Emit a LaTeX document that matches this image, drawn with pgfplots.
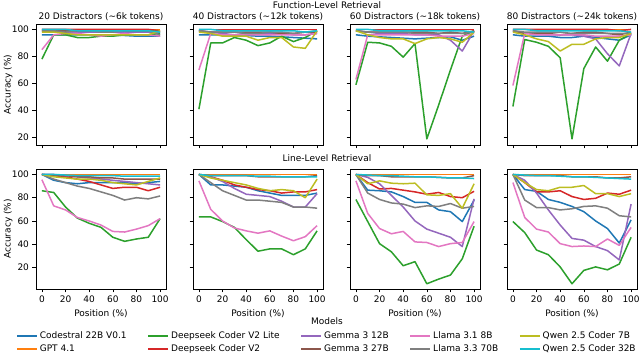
\documentclass[border=0pt]{standalone}
\usepackage{fontspec}
\setmainfont{DejaVu Sans}
\usepackage{pgfplots}
\usepackage{pgfplotstable}
\pgfplotsset{compat=1.18}

% tab10 colours
\definecolor{c0}{HTML}{1F77B4}
\definecolor{c1}{HTML}{FF7F0E}
\definecolor{c2}{HTML}{2CA02C}
\definecolor{c3}{HTML}{D62728}
\definecolor{c4}{HTML}{9467BD}
\definecolor{c5}{HTML}{8C564B}
\definecolor{c6}{HTML}{E377C2}
\definecolor{c7}{HTML}{7F7F7F}
\definecolor{c8}{HTML}{BCBD22}
\definecolor{c9}{HTML}{17BECF}

% Function-level retrieval
\pgfplotstableread{
x   cod  gpt dsl  dsv g12 g27 l8  l70 q7  q32
0   96   100 78   100 99  99  85  99  98  100
10  96   100 96   100 98  99  96  99  98  100
20  96   100 96   100 98  99  97  98  97  100
30  96   100 94   100 98  99  97  99  96  99
40  96   100 94   100 98  99  96  99  96  99
50  95.5 100 95   100 98  99  95  98  96  99
60  95.5 100 95   100 98  99  96  98  96  99
70  95.5 100 96   100 98  99  97  99  96  99
80  95   100 96   100 98  99  96  99  96  99
90  95   100 96   100 98  99  96  99  96  99
100 95   100 97   99  98  99  95  96  99  98
}\fA
\pgfplotstableread{
x   cod  gpt dsl  dsv g12 g27 l8  l70 q7  q32
0   96   100 41   100 99  99  70  99  98  100
10  96   100 90   100 98  98  97  98  97  100
20  96   100 90   100 97  98  96  98  95  99
30  96   100 94   100 96  98  96  98  95  99
40  95.5 100 92   100 97  98  96  97  95  99
50  95   100 88   100 97  98  96  97  92  99
60  95   100 90   100 97  98  96  98  94  99
70  94.5 100 95   100 97  97  96  98  94  99
80  94   100 91   100 96  97  96  97  87  99
90  93.5 100 94   100 96  98  96  98  86  98
100 93   100 99   100 97  98  97  99  99  99
}\fB
\pgfplotstableread{
x   cod  gpt dsl  dsv g12 g27 l8  l70 q7   q32
0   96   100 59   100 99  99  63  99  99   100
10  95   100 90.5 100 98  98  96  98  96   100
20  94.5 100 90   100 97  98  96  98  94   99
30  94   100 87.5 100 97  98  96  98  93   99
40  93.5 100 79.5 100 97  98  96  98  93   99
50  93   100 89.5 100 96  98  96  97  89.5 99
60  93.5 100 19   100 96  98  96  97  93   99
70  94   100 44   100 96  97  95  97  94   99
80  94.5 100 70   100 92  98  95  97  93   99
90  92   100 95   100 84  97  95  97  90.5 99
100 95   100 99   100 99  99  97  98  98   98
}\fC
\pgfplotstableread{
x   cod  gpt dsl  dsv g12 g27 l8   l70 q7  q32
0   96   100 43   100 99  99  58.5 99  98  100
10  95   100 92.5 100 97  97  97   98  96  100
20  95   100 90.5 100 97  97  96   98  93  99
30  95   100 87.5 100 96  97  96   98  91  99
40  94   100 79   100 96  96  96   98  84  99
50  94   100 19   100 96  97  96   97  89  99
60  95   100 71   100 95  98  96   97  89  99
70  94   100 87   100 93  98  95   97  93  99
80  93   100 76.5 100 82  97  95   97  94  99
90  92   100 92   99  73  96  95   97  94  99
100 96   100 97   100 97  98  96   97  97  98
}\fD

% Line-level retrieval
\pgfplotstableread{
x   cod gpt dsl  dsv g12 g27 l8   l70  q7  q32
0   100 100 86   100 100 100 95.5 100  100 100
10  95  100 84.5 99  100 99  73   96   98  100
20  93  100 72   98  99  99  69.5 93   97  99.5
30  92  100 62.5 96  98  98  63   90   96  99
40  93  100 58   94  97  98  60   88   96  99
50  93  100 54.5 91  96  97  56.5 85   95  99
60  93  100 46   88  95  97  51   82   93  99
70  93  100 42.5 89  94  96  50.5 78   92  98.5
80  92  100 44.5 89  93  96  53   80   91  98.5
90  93  100 46   86  92  96  56   79   94  98.5
100 94  100 62   89  91  96  62   81.5 97  98.5
}\lA
\pgfplotstableread{
x   cod gpt dsl  dsv g12  g27 l8   l70 q7  q32
0   100 100 63.5 100 100  100 94.5 100 100 100
10  91  100 63.5 98  98   99  70   93  97  99
20  91  100 59.5 95  94   99  60   86  95  99
30  90  100 54.5 91  88   99  54   82  93  99
40  89  100 44   89  83   99  51.5 78  91  99
50  86  100 34   87  82   98  49.5 78  88  98.5
60  84  100 36   86  81   98  51.5 77  86  98.5
70  82  100 36   84  77   98  47   76  87  98
80  82  100 31   85  72   98  43   72  86  98
90  82  100 36   85  72   98  46.5 72  80  98
100 84  100 51.5 87  83.5 99  56   71  96  98
}\lB
\pgfplotstableread{
x   cod  gpt dsl  dsv  g12  g27  l8   l70  q7   q32
0   100  100 78.5 100  100  100  94.5 100  100  100
10  86.5 100 59.5 93   97.5 99   66.5 84   92   99.5
20  86   100 40.5 87.5 92   99   53.5 78.5 94.5 99
30  85   100 33.5 88   82   98   49   75.5 92.5 99
40  81   100 21.5 86.5 72   98   51   74.5 92   98.5
50  76   100 25   85   60   98   42   71.5 92.5 98
60  76   100 6    83   53   98   41.5 73   82.5 98
70  69.5 100 10   84.5 49.5 97.5 38   72.5 82   97.5
80  68   100 13.5 81   46   97   40.5 75   83.5 97
90  59.5 100 27.5 80   38   97   41.5 71   71   97
100 78   100 55.5 85.5 79   99   59.5 72.5 92   96.5
}\lC
\pgfplotstableread{
x   cod  gpt dsl  dsv  g12  g27 l8   l70  q7   q32
0   100  100 59.5 100  100  100 93   100  100  100
10  87   100 50   93   95   99  63   78   93   99.5
20  85.5 100 35   85   84   99  53   71.5 87   99
30  78.5 100 31   85   69.5 99  50.5 71.5 86   99
40  76   100 20.5 86   56.5 99  40.5 69.5 89   98.5
50  72.5 100 6    81   45   98  38   70.5 89   98
60  68   100 17.5 78.5 43.5 98  38.5 72.5 90.5 98
70  60   100 20.5 79.5 38   98  38   73   83.5 97.5
80  53.5 100 18   84   34.5 97  44.5 71   83.5 97
90  41   100 23   83   26.5 97  39   64.5 81   96.5
100 61   100 46   86.5 74.5 98  54.5 63.5 83.5 96
}\lD

\pgfplotsset{
  s/.style={color=#1, line width=1.5pt, line join=round},
  panel/.style={
    scale only axis, width=130pt,
    xmin=-5, xmax=105,
    xtick={0,20,40,60,80,100},
    ytick={20,40,60,80,100},
    tick align=outside, tick pos=left,
    major tick length=3.5pt,
    every tick/.style={black, line width=0.6pt},
    axis line style={line width=0.6pt},
    tick label style={font=\fontsize{9}{10}\selectfont},
    label style={font=\fontsize{9}{10}\selectfont},
    ylabel style={at={(axis description cs:-0.215,0.5)}, anchor=center},
    title style={font=\fontsize{9}{10}\selectfont, at={(0.5,1)}, anchor=south, inner sep=0pt, yshift=-2.5pt},
    /pgf/number format/assume math mode=true,
  },
  toprow/.style={height=121pt, ymin=14.5, ymax=104, xticklabels={}},
  botrow/.style={height=120pt, ymin=1.5, ymax=104.7, xlabel={Position (\%)}},
  noy/.style={yticklabels={}},
}

\newcommand\allseries[1]{%
  \addplot[s=c0] table[x=x,y=cod]{#1};
  \addplot[s=c1] table[x=x,y=gpt]{#1};
  \addplot[s=c2] table[x=x,y=dsl]{#1};
  \addplot[s=c3] table[x=x,y=dsv]{#1};
  \addplot[s=c4] table[x=x,y=g12]{#1};
  \addplot[s=c5] table[x=x,y=g27]{#1};
  \addplot[s=c6] table[x=x,y=l8]{#1};
  \addplot[s=c7] table[x=x,y=l70]{#1};
  \addplot[s=c8] table[x=x,y=q7]{#1};
  \addplot[s=c9] table[x=x,y=q32]{#1};
}

\begin{document}
\begin{tikzpicture}
\useasboundingbox (0,0) rectangle (640pt,353pt);

% top row
\begin{axis}[panel, toprow, at={(36pt,208pt)}, anchor=south west,
  title={20 Distractors (\textasciitilde6k tokens)}, ylabel={Accuracy (\%)}]
\allseries{\fA}
\end{axis}
\begin{axis}[panel, toprow, noy, at={(193pt,208pt)}, anchor=south west,
  title={40 Distractors (\textasciitilde12k tokens)}]
\allseries{\fB}
\end{axis}
\begin{axis}[panel, toprow, noy, at={(350pt,208pt)}, anchor=south west,
  title={60 Distractors (\textasciitilde18k tokens)}]
\allseries{\fC}
\end{axis}
\begin{axis}[panel, toprow, noy, at={(507pt,208pt)}, anchor=south west,
  title={80 Distractors (\textasciitilde24k tokens)}]
\allseries{\fD}
\end{axis}

% bottom row, the first one carries the legend
\begin{axis}[panel, botrow, at={(36pt,64pt)}, anchor=south west,
  ylabel={Accuracy (\%)},
  legend columns=5,
  legend cell align=left,
  legend image code/.code={\draw[#1, line width=1.5pt] (0pt,0pt) -- (20pt,0pt);},
  legend style={at={(2.2385,-0.322)}, anchor=north, draw=none, fill=none,
    font=\fontsize{9}{10}\selectfont, row sep=0.5pt,
    /tikz/every even column/.append style={column sep=19pt}}]
\addlegendimage{s=c0}\addlegendentry{Codestral 22B V0.1}
\addlegendimage{s=c2}\addlegendentry{Deepseek Coder V2 Lite}
\addlegendimage{s=c4}\addlegendentry{Gemma 3 12B}
\addlegendimage{s=c6}\addlegendentry{Llama 3.1 8B}
\addlegendimage{s=c8}\addlegendentry{Qwen 2.5 Coder 7B}
\addlegendimage{s=c1}\addlegendentry{GPT 4.1}
\addlegendimage{s=c3}\addlegendentry{Deepseek Coder V2}
\addlegendimage{s=c5}\addlegendentry{Gemma 3 27B}
\addlegendimage{s=c7}\addlegendentry{Llama 3.3 70B}
\addlegendimage{s=c9}\addlegendentry{Qwen 2.5 Coder 32B}
\allseries{\lA}
\end{axis}
\begin{axis}[panel, botrow, noy, at={(193pt,64pt)}, anchor=south west]
\allseries{\lB}
\end{axis}
\begin{axis}[panel, botrow, noy, at={(350pt,64pt)}, anchor=south west]
\allseries{\lC}
\end{axis}
\begin{axis}[panel, botrow, noy, at={(507pt,64pt)}, anchor=south west]
\allseries{\lD}
\end{axis}

\node[font=\fontsize{9}{10}\selectfont] at (327pt,348pt) {Function-Level Retrieval};
\node[font=\fontsize{9}{10}\selectfont] at (327pt,195pt) {Line-Level Retrieval};
\node[font=\fontsize{9}{10}\selectfont] at (327pt,32pt) {Models};
\end{tikzpicture}
\end{document}
